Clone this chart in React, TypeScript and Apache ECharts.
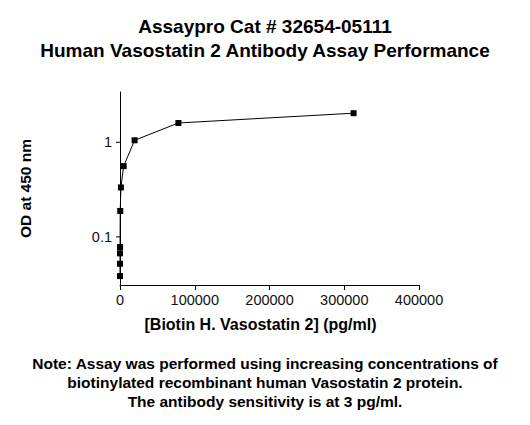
import React, { useEffect, useRef } from "react";
import * as echarts from "echarts";

// concentrations (pg/ml), 4-fold dilution series
const concentrations = [312500, 78125, 19531, 4883, 1221, 305, 76, 19, 4.8, 1.2];
const odValues = [2.03, 1.6, 1.05, 0.56, 0.333, 0.188, 0.078, 0.067, 0.052, 0.0385];

const yTickValues = [0.1, 1];
const titleLines = ["Assaypro Cat # 32654-05111", "Human Vasostatin 2 Antibody Assay Performance"];
const noteLines = [
  "Note: Assay was performed using increasing concentrations of",
  "biotinylated recombinant human Vasostatin 2 protein.",
  "The antibody sensitivity is at 3 pg/ml.",
];

const FONT = "Arial, 'Liberation Sans', sans-serif";

export default function App() {
  const chartRef = useRef<HTMLDivElement>(null);

  useEffect(() => {
    document.body.style.margin = "0";
    if (!chartRef.current) return;
    const chart = echarts.init(chartRef.current, undefined, { renderer: "svg" });

    const option: echarts.EChartsOption = {
      animation: false,
      backgroundColor: "#fff",
      title: [
        {
          text: titleLines.join("\n"),
          left: "center",
          top: 9,
          textStyle: { fontFamily: FONT, fontSize: 19, fontWeight: "bold", color: "#000", lineHeight: 24 },
        },
        {
          text: noteLines.join("\n"),
          left: "center",
          top: 349,
          textStyle: { fontFamily: FONT, fontSize: 15.5, fontWeight: "bold", color: "#000", lineHeight: 19 },
        },
      ],
      grid: { left: 120, right: 111, top: 92, bottom: 140 },
      xAxis: {
        type: "value",
        min: 0,
        max: 400000,
        interval: 100000,
        name: "[Biotin H. Vasostatin 2] (pg/ml)",
        nameLocation: "middle",
        nameGap: 31,
        nameTextStyle: {
          fontFamily: FONT,
          fontSize: 16,
          fontWeight: "bold",
          color: "#000",
          padding: [0, 18, 0, 0],
        },
        axisLine: { lineStyle: { color: "#000", width: 1 } },
        axisTick: { length: 5, lineStyle: { color: "#000" } },
        axisLabel: {
          fontFamily: FONT,
          fontSize: 14.5,
          color: "#111",
          margin: 7,
          formatter: (v: number) => String(v),
        },
        splitLine: { show: false },
      },
      yAxis: {
        type: "log",
        logBase: 10,
        min: 0.031,
        max: 3.4,
        name: "OD at 450 nm",
        nameLocation: "middle",
        nameGap: 87,
        nameTextStyle: { fontFamily: FONT, fontSize: 15.5, fontWeight: "bold", color: "#000" },
        axisLine: { show: true, lineStyle: { color: "#000", width: 1 } },
        axisTick: { show: false },
        axisLabel: {
          fontFamily: FONT,
          fontSize: 14.5,
          color: "#111",
          margin: 8,
          showMinLabel: false,
          showMaxLabel: false,
          formatter: (v: number) => {
            const hit = yTickValues.find((t) => Math.abs(v - t) < t * 1e-6);
            return hit !== undefined ? String(hit) : "";
          },
        },
        splitLine: { show: false },
      },
      series: [
        {
          type: "line",
          data: concentrations.map((c, i) => [c, odValues[i]]),
          symbol: "rect",
          symbolSize: 6,
          showAllSymbol: true,
          itemStyle: { color: "#000" },
          lineStyle: { color: "#000", width: 1 },
        },
      ],
    };

    chart.setOption(option);

    // short outward ticks only at the decade labels
    const axisX = chart.convertToPixel({ xAxisIndex: 0 }, 0) as number;
    chart.setOption({
      graphic: yTickValues.map((t) => {
        const py = chart.convertToPixel({ yAxisIndex: 0 }, t) as number;
        return {
          type: "line",
          shape: { x1: axisX - 4, y1: py, x2: axisX, y2: py },
          style: { stroke: "#000", lineWidth: 1 },
        };
      }),
    });

    return () => {
      chart.dispose();
    };
  }, []);

  return <div ref={chartRef} style={{ width: 530, height: 425 }} />;
}
